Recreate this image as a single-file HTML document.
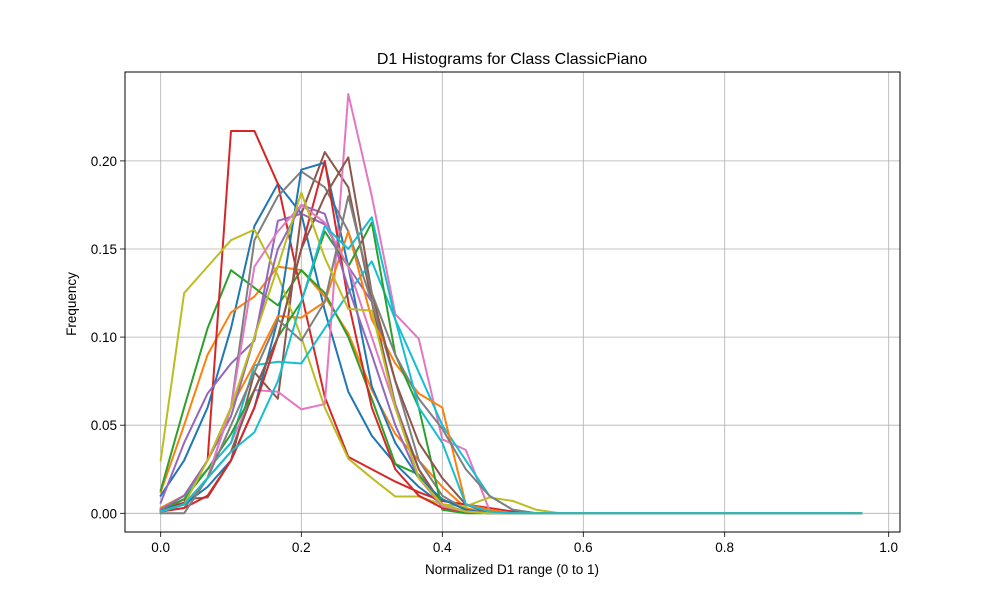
<!DOCTYPE html>
<html><head><meta charset="utf-8"><style>
body{margin:0;background:#fff}
svg text{font-family:"Liberation Sans","DejaVu Sans",sans-serif;fill:#000}
</style></head><body>
<svg id="chart" width="1000" height="600" xmlns="http://www.w3.org/2000/svg">
<rect width="1000" height="600" fill="#fff"/>
<text x="512" y="64" font-size="16" text-anchor="middle">D1 Histograms for Class ClassicPiano</text>
<g id="grid"></g><g id="lines"></g><g id="axes"></g>
<text x="512" y="574" font-size="13.5" text-anchor="middle">Normalized D1 range (0 to 1)</text>
<text transform="translate(76,304) rotate(-90)" font-size="13.5" text-anchor="middle">Frequency</text>
</svg>
<script>
const xTicks=[0,0.2,0.4,0.6,0.8,1.0];
const xTickLabels=["0.0","0.2","0.4","0.6","0.8","1.0"];
const yTicks=[0,0.05,0.10,0.15,0.20];
const yTickLabels=["0.00","0.05","0.10","0.15","0.20"];
const colors=["#1f77b4","#ff7f0e","#2ca02c","#d62728","#9467bd","#8c564b","#e377c2","#7f7f7f","#bcbd22","#17becf"];
const s01=[0.002,0.006,0.03,0.217,0.217,0.187,0.125,0.066,0.032,0.025,0.018,0.012,0.007,0.005,0.003,0.001];
const s02=[0.01,0.03,0.06,0.105,0.163,0.187,0.17,0.115,0.069,0.044,0.028,0.015,0.005,0.001];
const s03=[0.012,0.05,0.09,0.114,0.123,0.14,0.138,0.123,0.102,0.07,0.045,0.03,0.015,0.003];
const s04=[0.013,0.06,0.105,0.138,0.128,0.118,0.138,0.125,0.1,0.065,0.028,0.022,0.005,0.001];
const s05=[0.006,0.04,0.068,0.085,0.098,0.166,0.17,0.164,0.14,0.12,0.062,0.025,0.003,0.001];
const s06=[0.001,0.008,0.009,0.03,0.08,0.065,0.17,0.205,0.185,0.12,0.06,0.025,0.005,0.001];
const s07=[0.002,0.01,0.025,0.04,0.07,0.069,0.059,0.062,0.238,0.18,0.113,0.099,0.042,0.036,0.002];
const s08=[0.001,0.003,0.02,0.06,0.155,0.18,0.194,0.185,0.16,0.12,0.075,0.03,0.01,0.002];
const s09=[0.03,0.125,0.14,0.155,0.161,0.135,0.1,0.06,0.031,0.02,0.0095,0.0095,0.005,0.004,0.009,0.007,0.002];
const s10=[0.003,0.01,0.025,0.04,0.084,0.086,0.085,0.105,0.125,0.143,0.11,0.08,0.05,0.03,0.01,0.002];
const s11=[0.002,0.005,0.015,0.03,0.06,0.11,0.195,0.199,0.14,0.072,0.04,0.02,0.008,0.002];
const s12=[0.003,0.01,0.03,0.06,0.085,0.112,0.111,0.12,0.16,0.11,0.085,0.068,0.06,0.005,0.002];
const s13=[0.002,0.008,0.025,0.045,0.07,0.1,0.12,0.16,0.14,0.165,0.09,0.06,0.002];
const s14=[0.001,0.003,0.01,0.03,0.06,0.1,0.15,0.2,0.12,0.06,0.025,0.01,0.003,0.001];
const s15=[0.002,0.01,0.03,0.055,0.1,0.15,0.175,0.17,0.128,0.09,0.05,0.02,0.004,0.001];
const s16=[0.001,0.005,0.02,0.035,0.07,0.1,0.15,0.18,0.202,0.125,0.075,0.04,0.02,0.005];
const s17=[0.001,0.005,0.02,0.06,0.14,0.16,0.175,0.165,0.14,0.1,0.06,0.02,0.004,0.001];
const s18=[0,0,0.02,0.05,0.08,0.11,0.098,0.12,0.18,0.125,0.09,0.065,0.048,0.025,0.01,0.002];
const s19=[0.001,0.005,0.03,0.06,0.1,0.14,0.182,0.145,0.116,0.115,0.06,0.02,0.005,0.001];
const s20=[0.001,0.005,0.02,0.035,0.046,0.075,0.12,0.163,0.15,0.168,0.11,0.06,0.04,0.005,0.001];
const series=[s02,s03,s04,s01,s05,s06,s07,s08,s09,s10,s11,s12,s13,s14,s15,s16,s17,s18,s19,s20];
const NB=30;
const L=125,R=900,T=72,B=532;
const xKnotV=[-0.1,0,0.2,0.4,0.6,0.8,1.0,1.2];
const xKnotP=[90.4,160.7,301.3,442.3,583.3,724.7,888.7,1052.7];
function X(v){for(let i=0;i<xKnotV.length-1;i++){if(v<=xKnotV[i+1]||i===xKnotV.length-2){const t=(v-xKnotV[i])/(xKnotV[i+1]-xKnotV[i]);return xKnotP[i]+t*(xKnotP[i+1]-xKnotP[i]);}}}
const Y=v=>513.3-v*1762;
const NS="http://www.w3.org/2000/svg";
function mk(tag,attrs,parent){const e=document.createElementNS(NS,tag);for(const k in attrs)e.setAttribute(k,attrs[k]);parent.appendChild(e);return e;}
const grid=document.getElementById('grid'),lines=document.getElementById('lines'),axes=document.getElementById('axes');
xTicks.forEach((t,i)=>{
  const g=mk('line',{x1:X(t),x2:X(t),y1:T,y2:B,stroke:'#b0b0b0','stroke-width':0.8},grid);
  
  
  const tk=mk('line',{x1:X(t),x2:X(t),y1:B,y2:B+5,stroke:'#000','stroke-width':0.8},axes);
  
  
  const tx=mk('text',{x:X(t),y:B+20,'font-size':13.5,'text-anchor':'middle'},axes);
  tx.textContent=xTickLabels[i];
  
  
});
yTicks.forEach((t,i)=>{
  const g=mk('line',{x1:L,x2:R,y1:Y(t),y2:Y(t),stroke:'#b0b0b0','stroke-width':0.8},grid);
  
  
  const tk=mk('line',{x1:L-5,x2:L,y1:Y(t),y2:Y(t),stroke:'#000','stroke-width':0.8},axes);
  
  
  const tx=mk('text',{x:L-8,y:Y(t)+5,'font-size':13.5,'text-anchor':'end'},axes);
  tx.textContent=yTickLabels[i];
  
  
});
series.forEach((s,k)=>{
  const pts=[];
  for(let i=0;i<NB;i++){const v=i<s.length?s[i]:0;pts.push(X(i/NB).toFixed(2)+','+Y(v).toFixed(2));}
  const p=mk('polyline',{points:pts.join(' '),fill:'none',stroke:colors[k%10],'stroke-width':2,'stroke-linejoin':'round','stroke-linecap':'square'},lines);
  
  
});
const fr=mk('rect',{x:L,y:T,width:R-L,height:B-T,fill:'none',stroke:'#000','stroke-width':1},axes);


</script>
</body></html>
